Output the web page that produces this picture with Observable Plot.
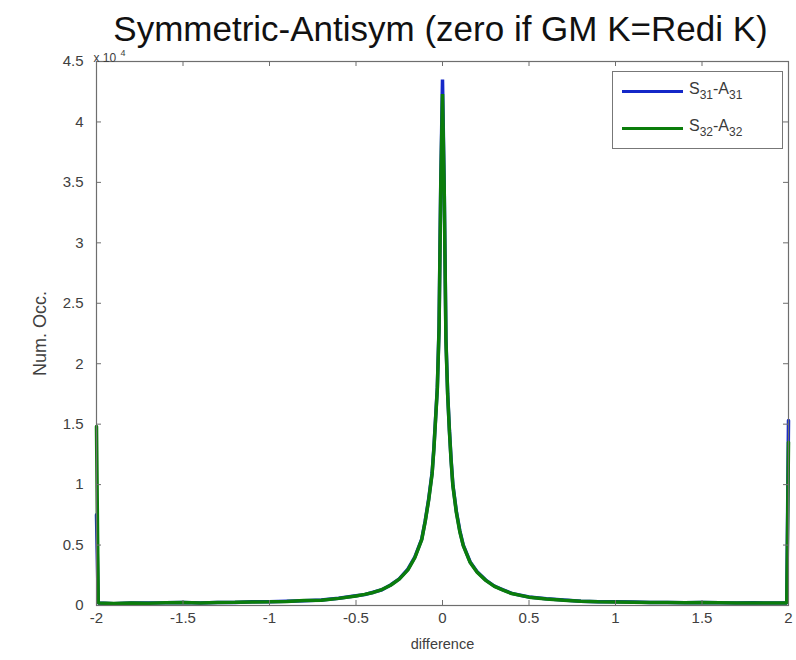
<!DOCTYPE html>
<html>
<head>
<meta charset="utf-8">
<script src="https://cdn.jsdelivr.net/npm/d3@7"></script>
<script src="https://cdn.jsdelivr.net/npm/@observablehq/plot@0.6"></script>
<style>
  html, body { margin: 0; padding: 0; background: #fff; }
  #wrap { position: relative; width: 796px; height: 660px; font-family: "Liberation Sans", Arial, sans-serif; }
  #legend { position: absolute; left: 612px; top: 71px; width: 171px; height: 78px; border: 1px solid #777; background: #fff; box-sizing: border-box; }
  #legend .row { position: absolute; left: 0; height: 22px; display: flex; align-items: center; }
  #legend .sw { width: 61px; height: 3px; margin-left: 9px; margin-right: 6px; }
  #legend .lab { font-size: 16px; color: #3a3a3a; }
  #legend sub { font-size: 12px; vertical-align: -5px; }
</style>
</head>
<body>
<div id="wrap">
  <div id="chart"></div>
  <div id="legend">
    <div class="row" style="top:8px"><div class="sw" style="background:#1428c8"></div><span class="lab">S<sub>31</sub>-A<sub>31</sub></span></div>
    <div class="row" style="top:45px"><div class="sw" style="background:#0b7d0b"></div><span class="lab">S<sub>32</sub>-A<sub>32</sub></span></div>
  </div>
</div>
<script>
// bin centres of "difference"
const xs = [-2, -1.99, -1.9, -1.8, -1.7, -1.6, -1.5, -1.4, -1.3, -1.2, -1.1, -1.0, -0.9, -0.8, -0.7, -0.6, -0.5, -0.45, -0.4, -0.35, -0.3, -0.25, -0.2, -0.16, -0.12, -0.1, -0.08, -0.06, -0.05, -0.04, -0.03, -0.02, -0.01, 0, 0.01, 0.02, 0.03, 0.04, 0.05, 0.06, 0.08, 0.1, 0.12, 0.16, 0.2, 0.25, 0.3, 0.35, 0.4, 0.45, 0.5, 0.6, 0.7, 0.8, 0.9, 1.0, 1.1, 1.2, 1.3, 1.4, 1.5, 1.6, 1.7, 1.8, 1.9, 1.99, 2];
// counts, S31-A31
const s31 = [7500, 200, 150, 200, 200, 220, 250, 200, 250, 250, 300, 300, 350, 400, 450, 600, 800, 900, 1100, 1300, 1700, 2200, 3000, 4000, 5500, 7000, 8800, 11000, 13000, 15500, 18000, 23000, 35000, 43500, 34500, 22000, 17500, 14500, 12000, 10000, 7800, 6200, 5000, 3600, 2800, 2100, 1600, 1300, 1000, 850, 700, 550, 450, 350, 300, 300, 280, 250, 250, 230, 250, 220, 200, 220, 200, 200, 15300];
// counts, S32-A32
const s32 = [14800, 200, 160, 210, 190, 230, 240, 210, 240, 260, 290, 310, 340, 410, 440, 590, 790, 920, 1080, 1320, 1680, 2180, 2950, 3950, 5450, 6950, 8700, 10900, 12900, 15400, 17900, 22800, 34800, 42300, 34300, 21800, 17400, 14400, 11900, 9900, 7700, 6100, 4950, 3550, 2750, 2080, 1580, 1280, 990, 840, 690, 540, 440, 345, 300, 295, 275, 255, 245, 235, 245, 225, 205, 215, 205, 200, 13500];

const xTicks = [-2, -1.5, -1, -0.5, 0, 0.5, 1, 1.5, 2];
const yTicks = [0, 5000, 10000, 15000, 20000, 25000, 30000, 35000, 40000, 45000];

const series = [
  {name: "S31-A31", values: s31, color: "#1428c8"},
  {name: "S32-A32", values: s32, color: "#0b7d0b"}
];
const data = series.flatMap(s => xs.map((x, i) => ({x, y: s.values[i], name: s.name})));

const W = 796, H = 660;
const mt = 61, mb = 55, ml = 96, mr = 8;
const ph = H - mt - mb, pw = W - ml - mr;
const tickLen = 5;

const chart = Plot.plot({
  width: W,
  height: H,
  marginTop: mt,
  marginBottom: mb,
  marginLeft: ml,
  marginRight: mr,
  style: {fontFamily: "Liberation Sans, Arial, sans-serif", background: "#fff", overflow: "visible"},
  x: {domain: [-2, 2], label: null},
  y: {domain: [0, 45000], label: null},
  color: {domain: series.map(s => s.name), range: series.map(s => s.color)},
  marks: [
    Plot.line(data, {x: "x", y: "y", z: "name", stroke: "name", strokeWidth: 3.5, strokeLinejoin: "miter"}),
    Plot.frame({stroke: "#6e6e6e", strokeWidth: 1.2}),
    Plot.ruleX(xTicks, {stroke: "#6e6e6e", insetTop: ph - tickLen}),
    Plot.ruleX(xTicks, {stroke: "#6e6e6e", insetBottom: ph - tickLen}),
    Plot.ruleY(yTicks, {stroke: "#6e6e6e", insetRight: pw - tickLen}),
    Plot.ruleY(yTicks, {stroke: "#6e6e6e", insetLeft: pw - tickLen}),
    Plot.axisX(xTicks, {tickSize: 0, tickPadding: 7, tickFormat: d => String(d), fontSize: 15, fill: "#404040", label: null}),
    Plot.axisY(yTicks, {tickSize: 0, tickPadding: 13, tickFormat: d => String(d / 1e4), fontSize: 15, fill: "#404040", label: null}),
    Plot.text(["difference"], {frameAnchor: "bottom", dy: 43, fontSize: 14.5, fill: "#404040"}),
    Plot.text(["Num. Occ."], {frameAnchor: "left", textAnchor: "middle", dx: -56, dy: 0, rotate: -90, fontSize: 18, fill: "#404040"}),
    Plot.text(["x 10"], {frameAnchor: "top-left", dx: -3, dy: -8, textAnchor: "start", fontSize: 12, fill: "#404040"}),
    Plot.text(["4"], {frameAnchor: "top-left", dx: 24, dy: -12, textAnchor: "start", fontSize: 9, fill: "#404040"}),
    Plot.text(["Symmetric-Antisym (zero if GM K=Redi K)"], {frameAnchor: "top", dx: -2, dy: -45, fontSize: 35, fill: "#111"})
  ]
});
document.getElementById("chart").appendChild(chart);
</script>
</body>
</html>
